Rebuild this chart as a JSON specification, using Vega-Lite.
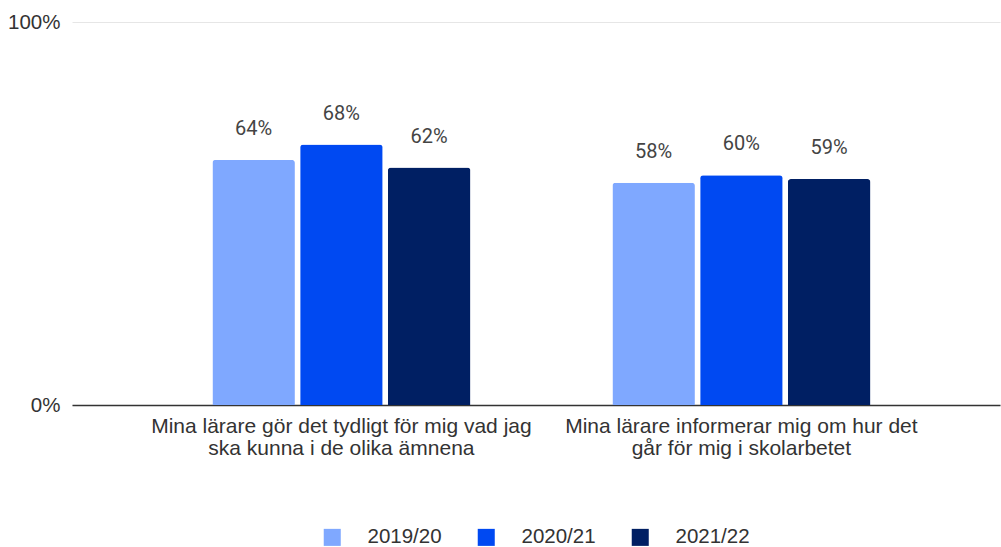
{
  "$schema": "https://vega.github.io/schema/vega-lite/v6.json",
  "width": 928,
  "height": 383,
  "autosize": {"type": "none"},
  "padding": {"left": 72, "top": 22, "right": 1, "bottom": 142},
  "background": "white",
  "data": {
    "values": [
      {"fraga": "Mina lärare gör det tydligt för mig vad jag|ska kunna i de olika ämnena", "ar": "2019/20", "andel": 0.64},
      {"fraga": "Mina lärare gör det tydligt för mig vad jag|ska kunna i de olika ämnena", "ar": "2020/21", "andel": 0.68},
      {"fraga": "Mina lärare gör det tydligt för mig vad jag|ska kunna i de olika ämnena", "ar": "2021/22", "andel": 0.62},
      {"fraga": "Mina lärare informerar mig om hur det|går för mig i skolarbetet", "ar": "2019/20", "andel": 0.58},
      {"fraga": "Mina lärare informerar mig om hur det|går för mig i skolarbetet", "ar": "2020/21", "andel": 0.60},
      {"fraga": "Mina lärare informerar mig om hur det|går för mig i skolarbetet", "ar": "2021/22", "andel": 0.59}
    ]
  },
  "encoding": {
    "x": {
      "field": "fraga", "type": "nominal", "sort": null, "title": null,
      "scale": {"paddingInner": 0.355, "paddingOuter": 0.3375, "align": 0.52},
      "axis": {
        "labelAngle": 0, "labelExpr": "split(datum.value, '|')",
        "labelFontSize": 21, "labelColor": "#333333", "labelLineHeight": 22,
        "labelPadding": 10, "ticks": false, "domainColor": "#333333", "domainWidth": 1.5,
        "labelLimit": 600, "labelFont": "Liberation Sans"
      }
    },
    "xOffset": {"field": "ar", "type": "nominal", "scale": {"paddingInner": 0.06}},
    "y": {
      "field": "andel", "type": "quantitative", "title": null,
      "scale": {"domain": [0, 1]},
      "axis": {
        "values": [0, 1], "format": ".0%", "domain": false, "ticks": false,
        "labelFontSize": 20.5, "labelColor": "#333333", "labelPadding": 12,
        "gridColor": "#e6e6e6", "labelFont": "Liberation Sans"
      }
    }
  },
  "layer": [
    {
      "mark": {"type": "bar", "cornerRadiusTopLeft": 3, "cornerRadiusTopRight": 3},
      "encoding": {
        "color": {
          "field": "ar", "type": "nominal", "title": null,
          "scale": {"domain": ["2019/20", "2020/21", "2021/22"], "range": ["#7fa8ff", "#0049f2", "#001f63"]},
          "legend": {
            "orient": "bottom", "direction": "horizontal", "symbolType": "square",
            "symbolSize": 290, "symbolStrokeWidth": 0, "labelFontSize": 20.5, "labelColor": "#333333",
            "labelOffset": 25, "columnPadding": 34, "offset": 69, "labelFont": "Liberation Sans"
          }
        }
      }
    },
    {
      "mark": {"type": "text", "baseline": "bottom", "dy": -21, "fontSize": 20, "color": "#444444", "font": "Roboto"},
      "encoding": {"text": {"field": "andel", "type": "quantitative", "format": ".0%"}}
    }
  ],
  "config": {
    "view": {"stroke": null},
    "legend": {"layout": {"bottom": {"anchor": "middle"}}}
  }
}
